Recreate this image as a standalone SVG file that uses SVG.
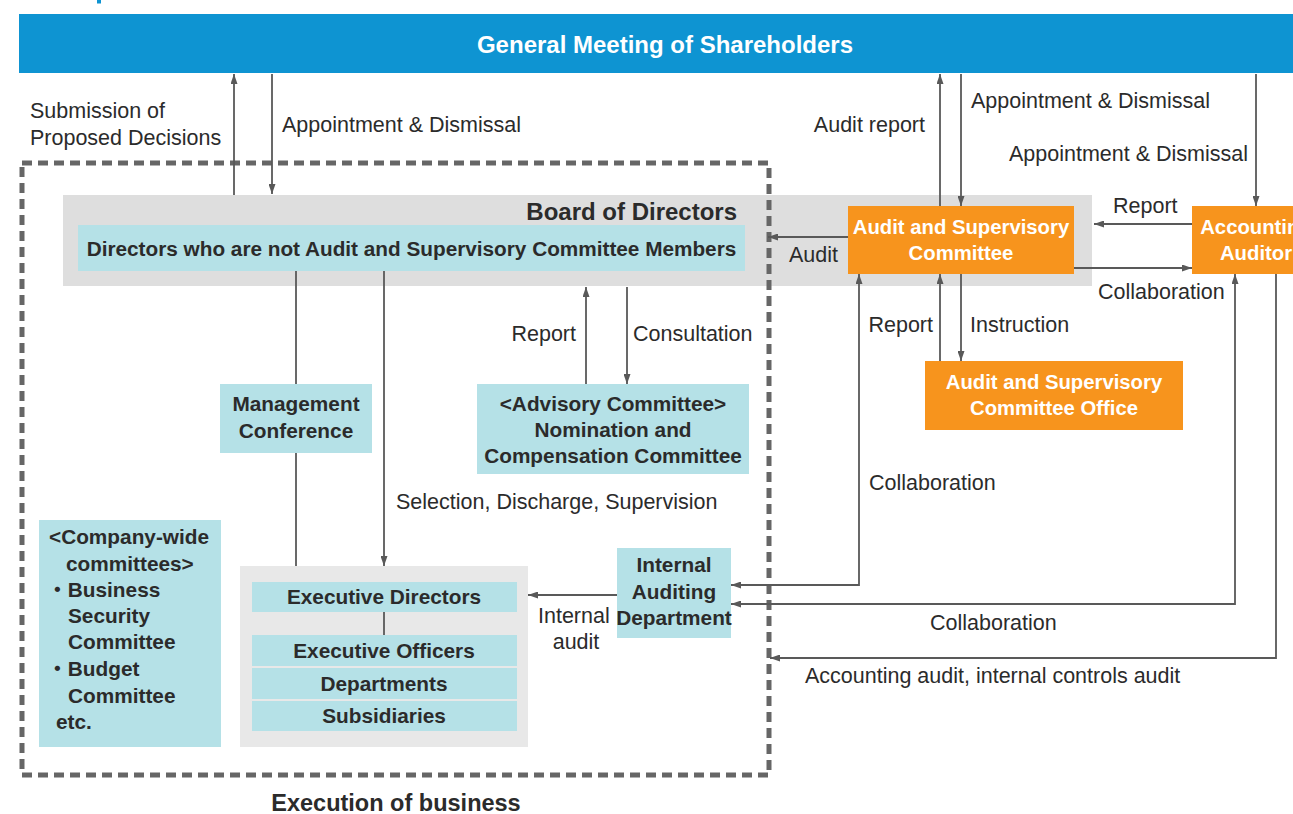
<svg xmlns="http://www.w3.org/2000/svg" width="1293" height="814" viewBox="0 0 1293 814">
  <defs>
    <marker id="arrow" viewBox="0 0 10 7" refX="10" refY="3.5" markerWidth="10" markerHeight="7" markerUnits="userSpaceOnUse" orient="auto-start-reverse">
      <path d="M0,0 L10,3.5 L0,7 z" fill="#595959"/>
    </marker>
    <style>
      .lbl { font-family: "Liberation Sans", Arial, sans-serif; font-size: 21.5px; fill: #2b2b2b; }
      .bold { font-family: "Liberation Sans", Arial, sans-serif; font-weight: bold; fill: #2b2b2b; }
      .wht { font-family: "Liberation Sans", Arial, sans-serif; font-weight: bold; font-size: 20.3px; fill: #ffffff; }
      .node { font-family: "Liberation Sans", Arial, sans-serif; font-weight: bold; font-size: 20.8px; fill: #2b2b2b; }
      .cjk { font-family: "Liberation Sans", "Noto Sans CJK JP", sans-serif; }
      .teal { fill: #b5e1e7; }
      .orange { fill: #f7941d; }
      .conn { fill: none; stroke: #595959; stroke-width: 1.8; }
      .arr { marker-end: url(#arrow); }
      .arr2 { marker-start: url(#arrow); marker-end: url(#arrow); }
    </style>
  </defs>

  <rect width="1293" height="814" fill="#ffffff"/>

  <!-- clipped heading fragment above the banner -->
  <rect x="97" y="0" width="4" height="3.5" fill="#0e94d2"/>

  <!-- General Meeting of Shareholders -->
  <g id="gms">
    <rect x="19" y="14" width="1280" height="59" fill="#0e94d2"/>
    <text x="665" y="53" text-anchor="middle" font-family="Liberation Sans, Arial, sans-serif" font-weight="bold" font-size="24" fill="#ffffff">General Meeting of Shareholders</text>
  </g>

  <!-- Board of Directors -->
  <g id="board">
    <rect x="63" y="195" width="1029" height="91" fill="#dedede"/>
    <text class="bold" x="737" y="220" text-anchor="end" font-size="24">Board of Directors</text>
  </g>
  <g id="directors">
    <rect class="teal" x="78" y="225" width="667" height="46"/>
    <text class="bold" x="411.5" y="256" text-anchor="middle" font-size="20.75">Directors who are not Audit and Supervisory Committee Members</text>
  </g>

  <!-- Execution of business boundary -->
  <g id="execution">
    <rect x="22" y="163" width="747" height="612" fill="none" stroke="#666666" stroke-width="5" stroke-dasharray="10 6"/>
    <text class="bold" x="396" y="811" text-anchor="middle" font-size="23.5">Execution of business</text>
  </g>

  <!-- Audit and Supervisory Committee -->
  <g id="asc">
    <rect class="orange" x="848" y="206" width="226" height="68"/>
    <text class="wht" x="961" y="234" text-anchor="middle">Audit and Supervisory</text>
    <text class="wht" x="961" y="260" text-anchor="middle">Committee</text>
  </g>

  <!-- Accounting Auditor -->
  <g id="auditor">
    <rect class="orange" x="1192" y="206" width="130" height="68"/>
    <text class="wht" x="1256" y="234" text-anchor="middle">Accounting</text>
    <text class="wht" x="1256" y="260" text-anchor="middle">Auditor</text>
  </g>

  <!-- Audit and Supervisory Committee Office -->
  <g id="asc-office">
    <rect class="orange" x="925" y="361" width="258" height="69"/>
    <text class="wht" x="1054" y="389" text-anchor="middle">Audit and Supervisory</text>
    <text class="wht" x="1054" y="415" text-anchor="middle">Committee Office</text>
  </g>

  <!-- Management Conference -->
  <g id="mgmt">
    <rect class="teal" x="220" y="384" width="152" height="69"/>
    <text class="node" x="296" y="411" text-anchor="middle">Management</text>
    <text class="node" x="296" y="438" text-anchor="middle">Conference</text>
  </g>

  <!-- Nomination and Compensation Committee -->
  <g id="advisory">
    <rect class="teal" x="477" y="384" width="272" height="90"/>
    <text class="node" x="613" y="411" text-anchor="middle">&lt;Advisory Committee&gt;</text>
    <text class="node" x="613" y="437" text-anchor="middle">Nomination and</text>
    <text class="node" x="613" y="463" text-anchor="middle">Compensation Committee</text>
  </g>

  <!-- Company-wide committees -->
  <g id="company-wide">
    <rect class="teal" x="39" y="520" width="182" height="227"/>
    <text class="node cjk">
      <tspan x="49" y="544">&lt;Company-wide</tspan>
      <tspan x="66" y="570.5">committees&gt;</tspan>
      <tspan x="47" y="597">・Business</tspan>
      <tspan x="68" y="623">Security</tspan>
      <tspan x="68" y="649">Committee</tspan>
      <tspan x="47" y="676">・Budget</tspan>
      <tspan x="68" y="702.5">Committee</tspan>
      <tspan x="56" y="729">etc.</tspan>
    </text>
  </g>

  <!-- Executive side -->
  <g id="executive">
    <rect x="240" y="566" width="288" height="181" fill="#e8e8e8"/>
  </g>
  <g id="exec-directors">
    <rect class="teal" x="252" y="582" width="265" height="30"/>
    <text class="node" x="384" y="604" text-anchor="middle" font-size="20.3">Executive Directors</text>
  </g>
  <g id="exec-officers">
    <rect class="teal" x="252" y="635" width="265" height="31"/>
    <text class="node" x="384" y="658" text-anchor="middle" font-size="20.3">Executive Officers</text>
  </g>
  <g id="departments">
    <rect class="teal" x="252" y="668" width="265" height="31"/>
    <text class="node" x="384" y="691" text-anchor="middle" font-size="20.3">Departments</text>
  </g>
  <g id="subsidiaries">
    <rect class="teal" x="252" y="701" width="265" height="30"/>
    <text class="node" x="384" y="723" text-anchor="middle" font-size="20.3">Subsidiaries</text>
  </g>

  <!-- Internal Auditing Department -->
  <g id="internal-audit">
    <rect class="teal" x="617" y="548" width="114" height="90"/>
    <text class="node" x="674" y="572" text-anchor="middle" font-size="20">Internal</text>
    <text class="node" x="674" y="599" text-anchor="middle" font-size="20">Auditing</text>
    <text class="node" x="674" y="625" text-anchor="middle" font-size="20">Department</text>
  </g>

  <!-- Connectors -->
  <g id="connectors">
    <path class="conn arr" d="M234,195 V74"/>
    <path class="conn arr" d="M272,74 V194"/>
    <path class="conn arr" d="M940,206 V74"/>
    <path class="conn arr" d="M961,74 V206"/>
    <path class="conn arr" d="M1256,74 V206"/>
    <path class="conn arr" d="M1192,224 H1094"/>
    <path class="conn arr" d="M1074,268 H1192"/>
    <path class="conn arr" d="M848,237 H768"/>
    <path class="conn arr" d="M586,384 V287"/>
    <path class="conn arr" d="M627,287 V384"/>
    <path class="conn" d="M296,271 V384"/>
    <path class="conn" d="M296,453 V566"/>
    <path class="conn arr" d="M384,271 V566"/>
    <path class="conn arr" d="M940,361 V274"/>
    <path class="conn arr" d="M961,274 V361"/>
    <path class="conn arr2" d="M859,274 V585 H731"/>
    <path class="conn arr2" d="M1235,274 V604 H731"/>
    <path class="conn arr" d="M1276,274 V658 H770"/>
    <path class="conn arr" d="M617,595 H528"/>
    <path class="conn" d="M384,612 V635"/>

    <text class="lbl" x="30" y="118">Submission of</text>
    <text class="lbl" x="30" y="145">Proposed Decisions</text>
    <text class="lbl" x="282" y="132">Appointment &amp; Dismissal</text>
    <text class="lbl" x="925" y="132" text-anchor="end">Audit report</text>
    <text class="lbl" x="971" y="108">Appointment &amp; Dismissal</text>
    <text class="lbl" x="1248" y="161" text-anchor="end">Appointment &amp; Dismissal</text>
    <text class="lbl" x="1113" y="213">Report</text>
    <text class="lbl" x="789" y="262">Audit</text>
    <text class="lbl" x="1098" y="299">Collaboration</text>
    <text class="lbl" x="576" y="341" text-anchor="end">Report</text>
    <text class="lbl" x="633" y="341">Consultation</text>
    <text class="lbl" x="933" y="332" text-anchor="end">Report</text>
    <text class="lbl" x="970" y="332">Instruction</text>
    <text class="lbl" x="869" y="490">Collaboration</text>
    <text class="lbl" x="396" y="509">Selection, Discharge, Supervision</text>
    <text class="lbl" x="538" y="623">Internal</text>
    <text class="lbl" x="576" y="649" text-anchor="middle">audit</text>
    <text class="lbl" x="930" y="630">Collaboration</text>
    <text class="lbl" x="805" y="683">Accounting audit, internal controls audit</text>
  </g>
</svg>
